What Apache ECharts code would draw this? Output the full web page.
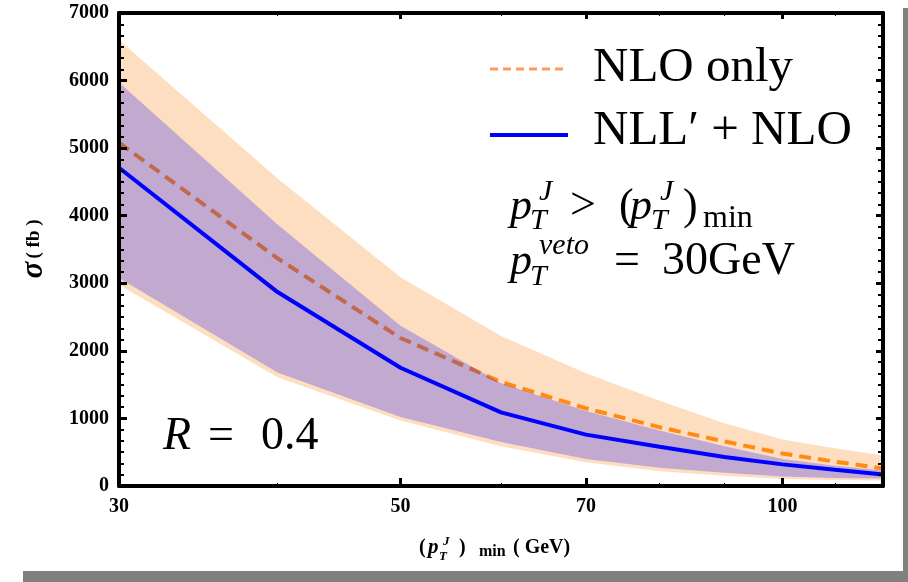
<!DOCTYPE html>
<html><head><meta charset="utf-8">
<script src="https://cdn.jsdelivr.net/npm/echarts@6/dist/echarts.min.js"></script>
<style>html,body{margin:0;padding:0;background:#fff}#c{width:908px;height:582px}</style>
</head><body><div id="c"></div>
<script>
// ---- data ----
const ptMin      = [30, 40, 50, 60, 70, 80, 90, 100, 110, 120];
const nloCentral = [5080, 3370, 2190, 1540, 1150, 870, 660, 480, 360, 260];
const nloUpper   = [6600, 4550, 3090, 2220, 1670, 1260, 930, 690, 560, 450];
const nloLower   = [2980, 1610, 970, 590, 350, 220, 150, 105, 90, 80];
const nllCentral = [4710, 2870, 1750, 1090, 760, 580, 430, 320, 240, 170];
const nllUpper   = [5970, 3870, 2370, 1520, 1110, 820, 590, 400, 300, 230];
const nllLower   = [3080, 1680, 1020, 650, 400, 270, 195, 140, 120, 110];
const xTickLabels = [30, 50, 70, 100];
const xMajorTicks = [50, 70, 100];
const xMinorTicks = [40, 60, 80, 90, 110];
const yMin = 0, yMax = 7000, yStep = 1000;

const F = '"Liberation Serif", "Times New Roman", serif';
const pairs = ys => ptMin.map((x, i) => [x, ys[i]]);

function logX(pos, ticks, tickLen, tickW, labels, showLine) {
  return {
    type: 'log', logBase: 10, min: 30, max: 120, position: pos, z: 10,
    axisLine: { show: showLine, onZero: false, lineStyle: { color: '#000', width: 4 } },
    axisTick: { show: true, inside: true, length: tickLen, customValues: ticks, lineStyle: { color: '#000', width: tickW } },
    axisLabel: labels ? { show: true, customValues: labels, color: '#000', fontFamily: F, fontWeight: 'bold', fontSize: 20, margin: 11 } : { show: false },
    splitLine: { show: false }, minorTick: { show: false }, minorSplitLine: { show: false }
  };
}
function valY(pos, labels) {
  return {
    type: 'value', min: yMin, max: yMax, interval: yStep, position: pos, z: 10,
    axisLine: { show: true, onZero: false, lineStyle: { color: '#000', width: 4 } },
    axisTick: { show: true, inside: true, length: pos === 'left' ? 8 : 7, lineStyle: { color: '#000', width: 3 } },
    minorTick: { show: true, splitNumber: 6, length: 5, lineStyle: { color: '#000', width: 2 } },
    axisLabel: labels ? { show: true, color: '#000', fontFamily: F, fontWeight: 'bold', fontSize: 20, margin: 10,
      formatter: v => String(v) } : { show: false },
    splitLine: { show: false }, minorSplitLine: { show: false }
  };
}
function band(upper, lower, color, z) {
  return {
    type: 'custom', z: z, silent: true,
    data: ptMin.map((x, i) => [x, lower[i], upper[i]]),
    encode: { x: 0, y: [1, 2] },
    renderItem: function (params, api) {
      if (params.dataIndex !== 0) return null;
      const pts = [];
      for (let i = 0; i < ptMin.length; i++) pts.push(api.coord([ptMin[i], upper[i]]));
      for (let i = ptMin.length - 1; i >= 0; i--) pts.push(api.coord([ptMin[i], lower[i]]));
      return { type: 'polygon', shape: { points: pts }, style: { fill: color } };
    }
  };
}
function tx(text, x, base, size, opt) {
  opt = opt || {};
  const font = (opt.italic ? 'italic ' : '') + (opt.bold ? 'bold ' : '') + size + 'px ' + F;
  return { type: 'text', z: 50, style: { text: text, x: x, y: base - 0.3375 * size, font: font, fill: '#000',
    align: 'left', verticalAlign: 'middle', textAlign: 'left', textVerticalAlign: 'middle' } };
}

const chart = echarts.init(document.getElementById('c'), null, { renderer: 'canvas' });
chart.setOption({
  animation: false,
  backgroundColor: '#fff',
  grid: { left: 119, right: 25, top: 13, bottom: 96, containLabel: false },
  xAxis: [
    logX('bottom', xMajorTicks, 8, 3, xTickLabels, true),
    logX('bottom', xMinorTicks, 3, 1, null, false),
    logX('top', xMajorTicks, 6, 3, null, true),
    logX('top', xMinorTicks, 3, 1, null, false)
  ],
  yAxis: [valY('left', true), valY('right', false)],
  series: [
    band(nloUpper, nloLower, '#FEDEC0', 2),
    { type: 'line', name: 'NLO only', data: pairs(nloCentral), symbol: 'none', z: 3,
      lineStyle: { color: '#FF8A14', width: 4, type: [12, 7] } },
    band(nllUpper, nllLower, 'rgba(0,0,255,0.24)', 4),
    { type: 'line', name: "NLL' + NLO", data: pairs(nllCentral), symbol: 'none', z: 5,
      lineStyle: { color: '#0000FF', width: 4 } }
  ],
  graphic: [
    { type: 'rect', shape: { x: 903, y: 8, width: 5, height: 574 }, style: { fill: '#808080' }, z: 1 },
    { type: 'rect', shape: { x: 23, y: 571, width: 885, height: 11 }, style: { fill: '#808080' }, z: 1 },
    // legend
    { type: 'line', shape: { x1: 490, y1: 69, x2: 568, y2: 69 }, style: { stroke: '#FF9A5C', lineWidth: 3, lineDash: [8, 5] }, z: 50 },
    { type: 'line', shape: { x1: 490, y1: 135, x2: 568, y2: 135 }, style: { stroke: '#0000FF', lineWidth: 4 }, z: 50 },
    tx('NLO only', 593, 85, 49),
    tx('NLL\u2032 + NLO', 593, 148, 49),
    // p_T^J > (p_T^J)_min
    tx('p', 510, 222, 44, { italic: true }),
    tx('T', 530, 231, 30, { italic: true }),
    tx('J', 539, 202, 30, { italic: true }),
    tx('>', 570, 222, 46),
    tx('(', 619, 222, 44),
    tx('p', 630, 222, 44, { italic: true }),
    tx('T', 651, 231, 30, { italic: true }),
    tx('J', 660, 202, 30, { italic: true }),
    tx(')', 683, 222, 44),
    tx('min', 703, 229, 32),
    // p_T^veto = 30GeV
    tx('p', 510, 277, 44, { italic: true }),
    tx('T', 530, 287, 30, { italic: true }),
    tx('veto', 539, 256, 30, { italic: true }),
    tx('=', 614, 277, 46),
    tx('30GeV', 662, 277, 46),
    // R = 0.4
    tx('R', 163, 452, 46, { italic: true }),
    tx('=', 208, 452, 46),
    tx('0.4', 261, 452, 46),
    // x-axis title
    tx('(', 419, 555, 20, { bold: true }),
    tx('p', 428, 555, 21, { bold: true, italic: true }),
    tx('T', 439, 561, 13, { bold: true, italic: true }),
    tx('J', 443, 546, 13, { bold: true, italic: true }),
    tx(')', 459, 555, 20, { bold: true }),
    tx('min', 479, 557, 16, { bold: true }),
    tx('( GeV)', 513, 555, 20, { bold: true }),
    // y-axis title
    { type: 'text', x: 34, y: 249, rotation: Math.PI / 2, z: 50,
      style: { text: '{s|\u03C3} {f|( fb )}', align: 'center', verticalAlign: 'middle', textAlign: 'center', textVerticalAlign: 'middle',
        rich: { s: { font: 'italic bold 31px ' + F, fill: '#000' }, f: { font: 'bold 19px ' + F, fill: '#000' } } } }
  ]
});
</script></body></html>
